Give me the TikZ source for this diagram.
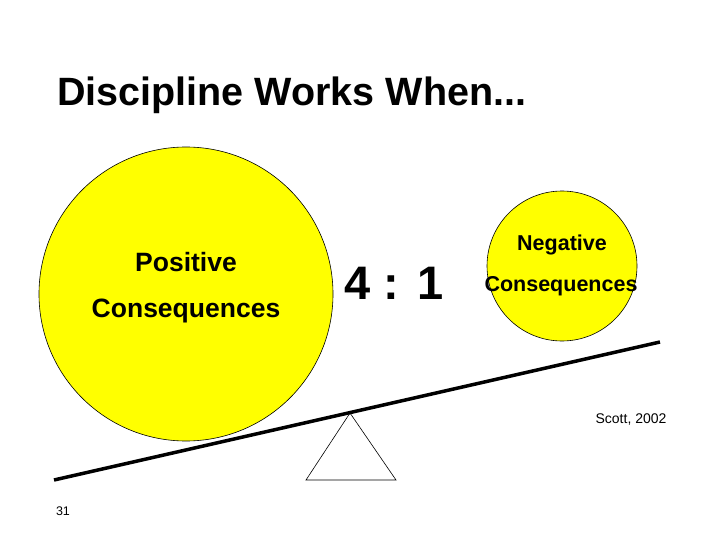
\documentclass[tikz,border=0pt]{standalone}
\usepackage{fontspec}
\setmainfont{Liberation Sans}
\definecolor{ballyellow}{RGB}{255,255,0}
\begin{document}
\begin{tikzpicture}[x=1pt,y=1pt,yscale=-1,xscale=1]
\tikzset{ball/.style={draw=black,fill=ballyellow,line width=0.6pt}}
\useasboundingbox (0,0) rectangle (720,540);

%Shape: Circle [id:big]
\draw [ball] (186,294) circle (147);
%Shape: Circle [id:small]
\draw [ball] (562,266) circle (75);
%Straight Lines [id:beam]
\coordinate (beamL) at (54,480);
\coordinate (beamR) at (660,342);
\draw [line width=3.5pt] (beamL) -- (beamR);
%Shape: Triangle [id:pivot]
\draw [line width=0.6pt] (350,413) -- (396,480) -- (306,480) -- cycle;

% Text Node
\node (title) [anchor=west,inner sep=0pt,font=\bfseries\fontsize{39.5}{44}\selectfont] at (57,95) {Discipline Works When...};
% Text Node
\node (pos) [font=\bfseries\fontsize{26.5}{30}\selectfont] at (186,262) {Positive};
% Text Node
\node (posc) [font=\bfseries\fontsize{26.5}{30}\selectfont] at (186,311) {Consequences};
% Text Node
\node (ratio) [font=\bfseries\fontsize{47}{52}\selectfont] at (394,283) {4 : 1};
% Text Node
\node (neg) [font=\bfseries\fontsize{21.5}{25}\selectfont] at (562,245) {Negative};
% Text Node
\node (negc) [font=\bfseries\fontsize{21.5}{25}\selectfont] at (561,286) {Consequences};
% Text Node
\node (cite) [font=\fontsize{14}{17}\selectfont] at (631,420) {Scott, 2002};
% Text Node
\node (page) [font=\fontsize{12.5}{15}\selectfont] at (63,511) {31};
\end{tikzpicture}
\end{document}
